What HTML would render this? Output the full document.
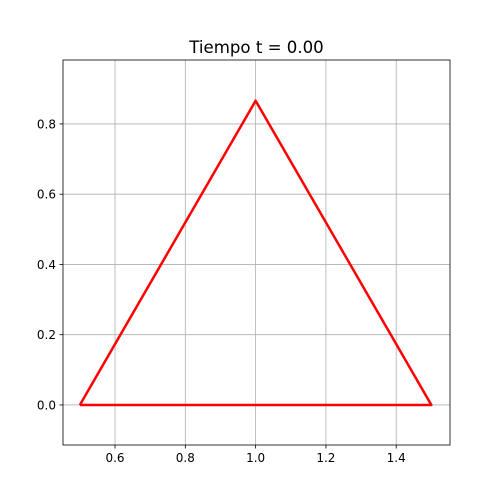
<!DOCTYPE html>
<html><head><meta charset="utf-8"><style>body{margin:0;background:#fff}svg{display:block}text{font-family:"DejaVu Sans","Liberation Sans",sans-serif}</style></head>
<body>
<svg id="chart" width="500" height="500"></svg>
<script>
const xTicks=[0.6,0.8,1.0,1.2,1.4];
const yTicks=[0.0,0.2,0.4,0.6,0.8];
const triX=[0.5,1.0,1.5,0.5];
const triY=[0.0,0.866,0.0,0.0];
const xMin=0.452,xMax=1.553,yMin=-0.114,yMax=0.982;
const L=63,R=450,T=60,B=445;
const sx=v=>L+(v-xMin)/(xMax-xMin)*(R-L);
const sy=v=>B-(v-yMin)/(yMax-yMin)*(B-T);
const svg=document.getElementById('chart');
const NS='http://www.w3.org/2000/svg';
function mk(t,a,p){const e=document.createElementNS(NS,t);for(const k in a)e.setAttribute(k,a[k]);(p||svg).appendChild(e);return e;}
xTicks.forEach(v=>{
 const g=mk('line',{x1:sx(v),x2:sx(v),y1:T,y2:B,stroke:'#b0b0b0','stroke-width':0.8});
 
 
 mk('line',{x1:sx(v),x2:sx(v),y1:B,y2:B+3.5,stroke:'#000','stroke-width':0.8});
 const t=mk('text',{x:sx(v),y:B+17,'font-size':12,'text-anchor':'middle'});t.textContent=v.toFixed(1);
 
 
});
yTicks.forEach(v=>{
 const g=mk('line',{x1:L,x2:R,y1:sy(v),y2:sy(v),stroke:'#b0b0b0','stroke-width':0.8});
 
 
 mk('line',{x1:L-3.5,x2:L,y1:sy(v),y2:sy(v),stroke:'#000','stroke-width':0.8});
 const t=mk('text',{x:L-7,y:sy(v)+4.5,'font-size':12,'text-anchor':'end'});t.textContent=v.toFixed(1);
 
 
});
const pts=triX.map((x,i)=>sx(x)+','+sy(triY[i])).join(' ');
const pl=mk('polyline',{points:pts,fill:'none',stroke:'#ff0000','stroke-width':2.5,'stroke-linejoin':'round'});


const fr=mk('rect',{x:L,y:T,width:R-L,height:B-T,fill:'none',stroke:'#000','stroke-width':0.8});


const ti=mk('text',{x:(L+R)/2,y:T-7,'font-size':16.6,'text-anchor':'middle'});ti.textContent='Tiempo t = 0.00';


</script>
</body></html>
